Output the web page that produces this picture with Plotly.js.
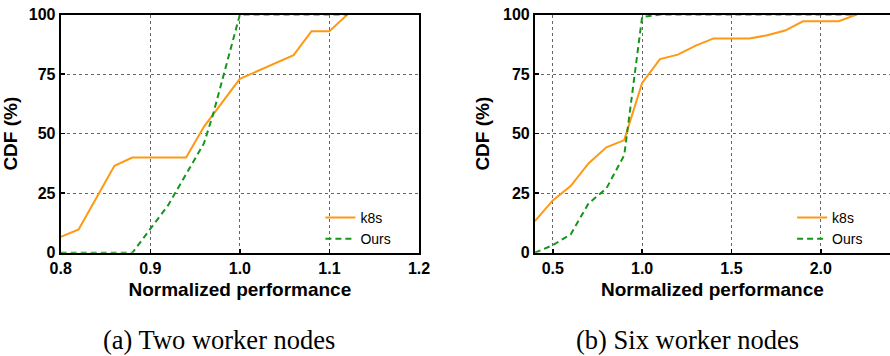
<!DOCTYPE html>
<html>
<head>
<meta charset="utf-8">
<script src="https://cdn.plot.ly/plotly-3.0.1.min.js"></script>
<style>html,body{margin:0;padding:0;background:#fff;}#chart{width:890px;height:356px;}</style>
</head>
<body>
<div id="chart"></div>
<script>
// (a) Two worker nodes
const xA_k8s = [0.80, 0.82, 0.86, 0.88, 0.94, 0.96, 1.00, 1.06, 1.08, 1.10, 1.12];
const yA_k8s = [6.7, 9.8, 36.5, 40, 40, 53, 73, 83, 93, 93, 100];
const xA_ours = [0.80, 0.88, 0.90, 0.92, 0.94, 0.96, 0.97, 0.98, 0.99, 1.00, 1.12];
const yA_ours = [0, 0, 10, 20, 33, 46, 58, 72, 86, 100, 100];
// (b) Six worker nodes
const xB_k8s = [0.4, 0.5, 0.6, 0.7, 0.8, 0.9, 1.0, 1.1, 1.2, 1.3, 1.4, 1.5, 1.6, 1.7, 1.8, 1.9, 2.0, 2.1, 2.2];
const yB_k8s = [13.3, 22, 28, 37.5, 44.3, 47.3, 71.3, 81.3, 83.2, 87, 90, 90, 90, 91.3, 93.3, 97.2, 97.2, 97.2, 100];
const xB_ours = [0.4, 0.5, 0.6, 0.7, 0.8, 0.9, 1.0, 1.1, 2.2];
const yB_ours = [0, 3.2, 7.7, 20.7, 27, 41, 99, 100, 100];

const seriesNames = ['k8s', 'Ours'];
const xTicksA = [0.8, 0.9, 1.0, 1.1, 1.2];
const xTickTextA = ['0.8', '0.9', '1.0', '1.1', '1.2'];
const xTicksB = [0.5, 1.0, 1.5, 2.0];
const xTickTextB = ['0.5', '1.0', '1.5', '2.0'];
const yTicks = [0, 25, 50, 75, 100];
const captions = ['(a) Two worker nodes', '(b) Six worker nodes'];
const xTitle = 'Normalized performance';
const yTitle = 'CDF (%)';

const ORANGE = '#ff9812';
const GREEN = '#15961a';
const SANS = 'Liberation Sans, Arial, sans-serif';

const traces = [
  {x: xA_k8s, y: yA_k8s, name: seriesNames[0], mode: 'lines', line: {color: ORANGE, width: 2}, xaxis: 'x', yaxis: 'y', legend: 'legend'},
  {x: xA_ours, y: yA_ours, name: seriesNames[1], mode: 'lines', line: {color: GREEN, width: 2, dash: '6px,4px'}, xaxis: 'x', yaxis: 'y', legend: 'legend'},
  {x: xB_k8s, y: yB_k8s, name: seriesNames[0], mode: 'lines', line: {color: ORANGE, width: 2}, xaxis: 'x2', yaxis: 'y2', legend: 'legend2'},
  {x: xB_ours, y: yB_ours, name: seriesNames[1], mode: 'lines', line: {color: GREEN, width: 2, dash: '6px,4px'}, xaxis: 'x2', yaxis: 'y2', legend: 'legend2'}
];

const tickFont = {family: SANS, size: 16, color: '#000', weight: 'bold'};
const titleFont = {family: SANS, size: 19, color: '#000', weight: 'bold'};

function xAxis(domain, range, tv, tt, anchor, mirror) {
  return {domain: domain, range: range, tickvals: tv, ticktext: tt, anchor: anchor,
    showline: true, linecolor: '#000', linewidth: 2, mirror: mirror,
    ticks: 'inside', ticklen: 4, tickcolor: '#000', tickwidth: 1.5,
    showgrid: true, gridcolor: '#666', griddash: 'dot', gridwidth: 1,
    zeroline: false, tickfont: tickFont,
    title: {text: xTitle, font: titleFont, standoff: 7}, fixedrange: true};
}
function yAxis(anchor, mirror) {
  return {domain: [0.29, 0.959], range: [0, 100], tickvals: yTicks, anchor: anchor,
    showline: true, linecolor: '#000', linewidth: 2, mirror: mirror,
    ticks: 'inside', ticklen: 4, tickcolor: '#000', tickwidth: 1.5,
    showgrid: true, gridcolor: '#666', griddash: 'dot', gridwidth: 1,
    zeroline: false, tickfont: tickFont, ticklabelstandoff: 0,
    title: {text: yTitle, font: titleFont, standoff: 8}, fixedrange: true};
}

const layout = {
  width: 890, height: 356,
  margin: {l: 0, r: 0, t: 0, b: 0},
  paper_bgcolor: '#fff', plot_bgcolor: '#fff',
  showlegend: true,
  xaxis: xAxis([0.0682, 0.4708], [0.8, 1.2], xTicksA, xTickTextA, 'y', true),
  yaxis: yAxis('x', true),
  xaxis2: xAxis([0.601, 1.0], [0.4, 2.387], xTicksB, xTickTextB, 'y2', true),
  yaxis2: yAxis('x2', false),
  legend: {x: 0.36, y: 0.433, xanchor: 'left', yanchor: 'top', bgcolor: 'rgba(0,0,0,0)',
    font: {family: SANS, size: 14, color: '#000'}, tracegroupgap: 0},
  legend2: {x: 0.89, y: 0.433, xanchor: 'left', yanchor: 'top', bgcolor: 'rgba(0,0,0,0)',
    font: {family: SANS, size: 14, color: '#000'}, tracegroupgap: 0},
  annotations: [
    {text: captions[0], xref: 'paper', yref: 'paper', x: 0.246, y: 0.045, xanchor: 'center', yanchor: 'middle', showarrow: false,
      font: {family: 'Liberation Serif, serif', size: 26.5, color: '#000'}},
    {text: captions[1], xref: 'paper', yref: 'paper', x: 0.772, y: 0.045, xanchor: 'center', yanchor: 'middle', showarrow: false,
      font: {family: 'Liberation Serif, serif', size: 26.5, color: '#000'}}
  ]
};

Plotly.newPlot('chart', traces, layout, {displayModeBar: false, staticPlot: true});
</script>
</body>
</html>
